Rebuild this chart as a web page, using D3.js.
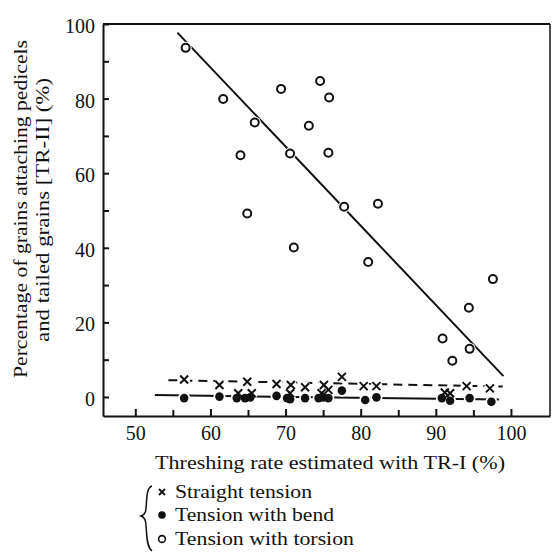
<!DOCTYPE html>
<html>
<head>
<meta charset="utf-8">
<script src="https://cdn.jsdelivr.net/npm/d3@7"></script>
<style>
  body { margin: 0; background: #fff; }
  svg text { font-family: "Liberation Serif", "Times New Roman", Times, serif; }
  .axis path, .axis line { stroke: #111; stroke-width: 2; }
  .axis text { font-size: 20px; fill: #111; }
</style>
</head>
<body>
<div id="chart"></div>
<script>
// threshing rate (TR-I) vs grains with pedicels (TR-II), three tension types
let torsionX = [56.7, 61.7, 64.0, 64.9, 65.9, 69.4, 70.6, 71.1, 73.1, 74.6, 75.7, 75.8, 77.8, 81.0, 82.3, 90.9, 92.2, 94.4, 94.5, 97.6];
let torsionY = [93.6, 79.9, 64.8, 49.2, 73.6, 82.6, 65.3, 40.1, 72.7, 84.7, 65.5, 80.3, 51.0, 36.2, 51.8, 15.7, 9.7, 23.9, 12.9, 31.6];

let straightX = [56.5, 61.2, 63.7, 64.9, 65.5, 68.8, 70.6, 70.7, 72.6, 74.8, 75.1, 75.7, 77.5, 80.4, 82.1, 91.2, 91.9, 94.1, 97.2];
let straightY = [4.7, 3.2, 1.0, 4.1, 1.0, 3.5, 1.0, 3.2, 2.6, 1.0, 3.2, 1.9, 5.4, 2.9, 2.9, 1.2, 1.0, 2.9, 2.3];

let bendX = [56.5, 61.2, 63.5, 64.6, 65.3, 68.8, 70.2, 70.6, 72.6, 74.4, 75.0, 75.7, 77.5, 80.6, 82.1, 90.8, 91.9, 94.5, 97.4];
let bendY = [-0.3, 0.1, -0.3, -0.3, -0.1, 0.3, -0.3, -0.6, -0.3, -0.3, -0.1, -0.3, 1.7, -0.8, -0.1, -0.3, -1.0, -0.3, -1.3];

// fitted lines, [x, y] end points
let torsionFit = [[55.6, 97.7], [99.0, 5.6]];
let straightFit = [[54.4, 4.5], [98.9, 2.8]];
let bendFit = [[52.6, 0.5], [98.4, -0.7]];

let xMajor = [50, 60, 70, 80, 90, 100];
let xMinor = [55, 65, 75, 85, 95];
let yMajor = [0, 20, 40, 60, 80, 100];
let yMinor = [10, 30, 50, 70, 90];

let legendLabels = ['Straight tension', 'Tension with bend', 'Tension with torsion'];

let width = 552, height = 552;
let svg = d3.select('#chart').append('svg')
    .attr('width', width)
    .attr('height', height);

let x = d3.scaleLinear().domain([45.7, 105.2]).range([103, 550]);
let y = d3.scaleLinear().domain([-5.1, 100]).range([416, 24]);

// frame (top + right)
svg.append('line')
    .attr('x1', x(45.7)).attr('x2', x(105.2))
    .attr('y1', y(100)).attr('y2', y(100))
    .attr('stroke', '#111').attr('stroke-width', 2);
svg.append('line')
    .attr('x1', x(105.2)).attr('x2', x(105.2))
    .attr('y1', y(100)).attr('y2', y(-5.1))
    .attr('stroke', '#111').attr('stroke-width', 1.5);

// * AXES * //
svg.append('g')
    .attr('class', 'axis')
    .attr('transform', 'translate(0,' + y(-5.1) + ')')
    .call(d3.axisBottom(x).tickValues(xMajor).tickSize(-7).tickPadding(10).tickSizeOuter(0))
    .attr('font-family', null);
svg.append('g')
    .attr('class', 'axis')
    .attr('transform', 'translate(0,' + y(-5.1) + ')')
    .call(d3.axisBottom(x).tickValues(xMinor).tickSize(-6).tickFormat('').tickSizeOuter(0))
    .select('.domain').remove();

let yAx = svg.append('g')
    .attr('class', 'axis')
    .attr('transform', 'translate(' + x(45.7) + ',0)')
    .call(d3.axisLeft(y).tickValues(yMajor).tickSize(-6).tickPadding(8).tickSizeOuter(0))
    .attr('font-family', null);
yAx.selectAll('text').attr('dy', '0.42em');
svg.append('g')
    .attr('class', 'axis')
    .attr('transform', 'translate(' + x(45.7) + ',0)')
    .call(d3.axisLeft(y).tickValues(yMinor).tickSize(-6).tickFormat('').tickSizeOuter(0))
    .select('.domain').remove();

// axis titles
svg.append('text')
    .text('Threshing rate estimated with TR-I  (%)')
    .attr('x', 155).attr('y', 469)
    .attr('textLength', 350).attr('lengthAdjust', 'spacingAndGlyphs')
    .style('font-size', '19px').attr('fill', '#111');

svg.append('text')
    .text('Percentage of grains attaching pedicels')
    .attr('transform', 'translate(27,378) rotate(-90)')
    .attr('textLength', 338).attr('lengthAdjust', 'spacingAndGlyphs')
    .style('font-size', '19px').attr('fill', '#111');
svg.append('text')
    .text('and tailed grains [TR-II]  (%)')
    .attr('transform', 'translate(49,342) rotate(-90)')
    .attr('textLength', 264).attr('lengthAdjust', 'spacingAndGlyphs')
    .style('font-size', '19px').attr('fill', '#111');

// * FIT LINES * //
let line = d3.line().x((d) => x(d[0])).y((d) => y(d[1]));

svg.append('path').datum(torsionFit).attr('d', line)
    .attr('stroke', '#111').attr('stroke-width', 2).attr('fill', 'none');
svg.append('path').datum(straightFit).attr('d', line)
    .attr('stroke', '#111').attr('stroke-width', 2).attr('fill', 'none')
    .attr('stroke-dasharray', '9,6');
svg.append('path').datum(bendFit).attr('d', line)
    .attr('stroke', '#111').attr('stroke-width', 2).attr('fill', 'none');

// * MARKERS * //
let torsion = torsionX.map((v, i) => [v, torsionY[i]]);
let straight = straightX.map((v, i) => [v, straightY[i]]);
let bend = bendX.map((v, i) => [v, bendY[i]]);

// white halos so lines break round the marks
let halos = svg.append('g');
for (let s of [torsion, straight, bend]) {
    halos.selectAll(null)
        .data(s)
        .enter()
        .append('circle')
        .attr('cx', (d) => x(d[0]))
        .attr('cy', (d) => y(d[1]))
        .attr('r', 6)
        .attr('fill', '#fff');
}

svg.append('g').selectAll('circle')
    .data(torsion)
    .enter()
    .append('circle')
    .attr('cx', (d) => x(d[0]))
    .attr('cy', (d) => y(d[1]))
    .attr('r', 4)
    .attr('fill', '#fff')
    .attr('stroke', '#111')
    .attr('stroke-width', 2);

svg.append('g').selectAll('circle')
    .data(bend)
    .enter()
    .append('circle')
    .attr('cx', (d) => x(d[0]))
    .attr('cy', (d) => y(d[1]))
    .attr('r', 4.3)
    .attr('fill', '#111');

let cross = (cx, cy, s) => 'M' + (cx - s) + ',' + (cy - s) + 'L' + (cx + s) + ',' + (cy + s) +
    'M' + (cx - s) + ',' + (cy + s) + 'L' + (cx + s) + ',' + (cy - s);

svg.append('g').selectAll('path')
    .data(straight)
    .enter()
    .append('path')
    .attr('d', (d) => cross(x(d[0]), y(d[1]), 4))
    .attr('stroke', '#111')
    .attr('stroke-width', 2)
    .attr('fill', 'none');

// * LEGEND * //
let leg = svg.append('g');
let legY = [492, 515, 539];

leg.append('path')
    .attr('d', 'M152,486 C146,488 147,500 146,508 C146,513 144,515 141,516 C144,517 146,520 146,526 C147,534 146,546 152,551')
    .attr('stroke', '#111').attr('stroke-width', 1.5).attr('fill', 'none');

leg.append('path')
    .attr('d', cross(162, legY[0], 3))
    .attr('stroke', '#111').attr('stroke-width', 1.8);
leg.append('circle')
    .attr('cx', 162).attr('cy', legY[1]).attr('r', 3.8).attr('fill', '#111');
leg.append('circle')
    .attr('cx', 162).attr('cy', legY[2]).attr('r', 3.4)
    .attr('fill', '#fff').attr('stroke', '#111').attr('stroke-width', 1.6);

let legWidths = [137, 159, 179];
for (let i = 0; i < legendLabels.length; i++) {
    leg.append('text')
        .text(legendLabels[i])
        .attr('x', 175)
        .attr('y', legY[i] + 6)
        .attr('textLength', legWidths[i]).attr('lengthAdjust', 'spacingAndGlyphs')
        .style('font-size', '18px')
        .attr('fill', '#111');
}
</script>
</body>
</html>
